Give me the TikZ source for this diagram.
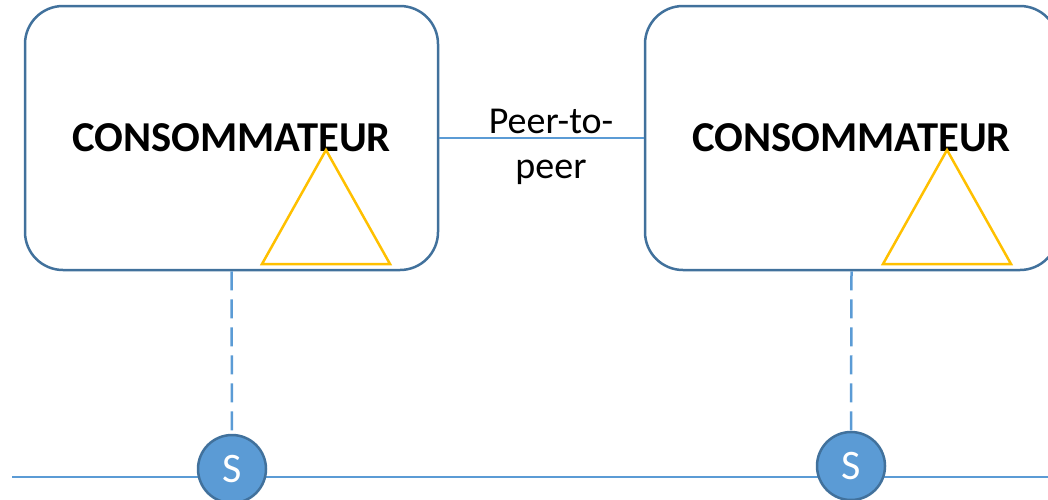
\documentclass[tikz,border=0pt]{standalone}
\usepackage{fontspec}
\setmainfont{Carlito}
\usetikzlibrary{positioning}
\definecolor{boxblue}{RGB}{65,113,156}
\definecolor{lineblue}{RGB}{91,155,213}
\definecolor{markyellow}{RGB}{255,192,0}

\begin{document}
\begin{tikzpicture}[x=1pt, y=-1pt,
        consumer/.style={draw=boxblue, line width=2.5pt, rounded corners=38pt,
            minimum width=413pt, minimum height=264pt,
            font=\fontsize{42.6}{51}\selectfont\bfseries},
        server/.style={circle, draw=boxblue, line width=2.5pt, fill=lineblue,
            minimum size=68pt, inner sep=0pt, text=white,
            font=\fontsize{42}{50}\selectfont},
        link/.style={lineblue, line width=2.5pt, dash pattern=on 19pt off 9pt},
        marker/.style={markyellow, line width=2.5pt}]
        \useasboundingbox (0,0) rectangle (1048,499);
        \clip (0,0) rectangle (1048,499);

        % Bus
        \coordinate (busL) at (12,477);
        \coordinate (busR) at (1048,477);
        \draw[lineblue, line width=2.5pt] (busL) -- (busR);

        % Consumers
        \node[consumer] (cl) at (231.5,138) {CONSOMMATEUR};
        \node[consumer] (cr) at (851.5,138) {CONSOMMATEUR};

        % Triangles
        \draw[marker] (262,264) -- (326,150) -- (390,264) -- cycle;
        \draw[marker] (883,264) -- (947,150) -- (1011,264) -- cycle;

        % Peer-to-peer
        \draw[lineblue, line width=1.3pt] (cl.east) -- (cr.west);
        \node[align=center, font=\fontsize{38}{45}\selectfont] (p2p) at (551,147) {Peer-to-\\peer};

        % Servers
        \node[server] (sl) at (232,469) {S};
        \node[server] (sr) at (851,466) {S};
        \draw[link] (cl.south) -- (sl.north);
        \draw[link] (cr.south) -- (sr.north);
    \end{tikzpicture}
\end{document}
